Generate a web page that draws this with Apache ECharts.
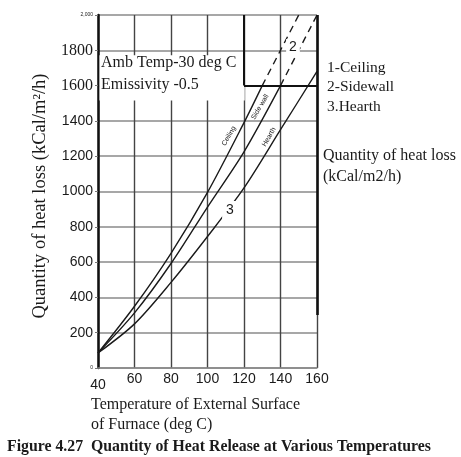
<!DOCTYPE html>
<html>
<head>
    <meta charset="utf-8">
    <title>Heat loss</title>
    <script src="https://cdn.jsdelivr.net/npm/echarts@6/dist/echarts.min.js"></script>
    <style>
        html, body { margin: 0; padding: 0; background: #fff; }
    </style>
</head>
<body>
    <div id="main" style="width: 461px;height:457px;"></div>

<script>
// values
var temps = [40, 60, 80, 100, 120, 140, 160];
var ceilingTemps = [40, 60, 80, 100, 120, 130, 140, 150];
var ceilingLoss = [85, 350, 650, 995, 1390, 1600, 1800, 2000];
var sidewallLoss = [85, 312, 592, 912, 1225, 1600, 2000];
var hearthLoss = [85, 250, 485, 745, 1020, 1350, 1680];
var ceilingDashFrom = 130;   // extrapolated part drawn dashed
var sidewallDashFrom = 140;
var yTickText = ['0', '200', '400', '600', '800', '1000', '1200', '1400', '1600', '1800', '2,000'];

function pairs(xs, ys) {
    return xs.map(function (x, i) { return [x, ys[i]]; });
}
function solidPart(d, from) { return d.filter(function (p) { return p[0] <= from; }); }
function dashPart(d, from) { return d.filter(function (p) { return p[0] >= from; }); }

var ceiling = pairs(ceilingTemps, ceilingLoss);
var sidewall = pairs(temps, sidewallLoss);
var hearth = pairs(temps, hearthLoss);

var serif = 'Liberation Serif';
var sans = 'Liberation Sans';
var ink = '#1a1a1a';

function curve(name, data, dashed) {
    return {
        name: name,
        type: 'line',
        data: data,
        smooth: 0.3,
        showSymbol: false,
        silent: true,
        lineStyle: { color: ink, width: 1.4, type: dashed ? [7, 5] : 'solid' }
    };
}

function txt(text, x, y, font, extra) {
    var el = {
        type: 'text', x: x, y: y, z: 100, silent: true,
        style: { text: text, font: font, fill: ink, textAlign: 'left', textVerticalAlign: 'middle' }
    };
    if (extra) {
        for (var k in extra) {
            if (k === 'style') { for (var s in extra.style) el.style[s] = extra.style[s]; }
            else el[k] = extra[k];
        }
    }
    return el;
}

var myChart = echarts.init(document.getElementById('main'));

var series = [
    curve('Ceiling', solidPart(ceiling, ceilingDashFrom), false),
    curve('Ceiling ext', dashPart(ceiling, ceilingDashFrom), true),
    curve('Sidewall', solidPart(sidewall, sidewallDashFrom), false),
    curve('Sidewall ext', dashPart(sidewall, sidewallDashFrom), true),
    curve('Hearth', hearth, false)
];

// white box behind the note text
series[0].markArea = {
    silent: true,
    itemStyle: { color: '#fff' },
    data: [[{ coord: [40.8, 1515] }, { coord: [120.4, 1772] }]]
};
// darker frame lines of the chart
series[4].markLine = {
    silent: true,
    symbol: 'none',
    label: { show: false },
    lineStyle: { color: '#111', width: 2, type: 'solid' },
    data: [
        [{ coord: [120, 1600] }, { coord: [160, 1600] }],
        [{ coord: [120, 1600] }, { coord: [120, 2000] }],
        [{ coord: [160, 300], lineStyle: { width: 2.6 } }, { coord: [160, 2000] }]
    ]
};

myChart.setOption({
    animation: false,
    backgroundColor: '#fff',
    grid: { left: 98, right: 144, top: 15, bottom: 89 },
    xAxis: {
        type: 'value',
        min: 40,
        max: 160,
        interval: 20,
        axisLine: { show: true, onZero: false, lineStyle: { color: '#888', width: 1.5 } },
        axisTick: { show: false },
        axisLabel: {
            margin: 4,
            color: ink,
            fontFamily: sans,
            fontSize: 14,
            formatter: function (v) { return v === 40 ? '{low|40}' : String(v); },
            rich: { low: { fontFamily: sans, fontSize: 14, color: ink, padding: [6, 0, 0, 0] } }
        },
        splitLine: { show: true, lineStyle: { color: '#444', width: 1.4 } }
    },
    yAxis: {
        type: 'value',
        min: 0,
        max: 2000,
        interval: 200,
        axisLine: { show: true, lineStyle: { color: '#111', width: 2.5 } },
        axisTick: { show: true, length: 3, lineStyle: { color: '#777' } },
        axisLabel: {
            margin: 5,
            color: ink,
            fontFamily: sans,
            fontSize: 14,
            formatter: function (v) {
                var t = yTickText[Math.round(v / 200)];
                if (v === 0 || v === 2000) return '{tiny|' + t + '}';
                if (v >= 1600) return '{ser|' + t + '}';
                return t;
            },
            rich: {
                tiny: { fontSize: 5, fontFamily: sans, color: ink },
                ser: { fontSize: 16, fontFamily: serif, color: ink }
            }
        },
        splitLine: { show: true, lineStyle: { color: '#8a8a8a', width: 1.6 } }
    },
    series: series,
    graphic: [
        txt('Quantity of heat loss (kCal/m\u00b2/h)', 40, 196, '18.5px ' + serif,
            { rotation: Math.PI / 2, style: { textAlign: 'center' } }),
        txt('Amb Temp-30 deg C', 101, 63, '16px ' + serif),
        txt('Emissivity -0.5', 101, 85, '16px ' + serif),
        txt('1-Ceiling', 327, 68, '15.5px ' + serif),
        txt('2-Sidewall', 327, 87, '15.5px ' + serif),
        txt('3.Hearth', 327, 107, '15.5px ' + serif),
        txt('Quantity of heat loss', 323, 156, '16px ' + serif),
        txt('(kCal/m2/h)', 323, 177, '16px ' + serif),
        txt('Temperature of External Surface', 91, 405, '16px ' + serif),
        txt('of Furnace (deg C)', 91, 425, '16px ' + serif),
        txt('Figure 4.27  Quantity of Heat Release at Various Temperatures', 7, 447, 'bold 15.8px ' + serif),
        txt('2', 293, 47, '14px ' + sans,
            { style: { textAlign: 'center', backgroundColor: '#fff', padding: [1, 3] } }),
        txt('3', 230, 210, '14px ' + sans,
            { style: { textAlign: 'center', backgroundColor: '#fff', padding: [2, 4] } }),
        txt('Ceiling', 229, 136, '7px ' + sans,
            { rotation: 1.05, style: { textAlign: 'center' } }),
        txt('Side wall', 260, 107, '7px ' + sans,
            { rotation: 1.05, style: { textAlign: 'center' } }),
        txt('Hearth', 269, 137, '7px ' + sans,
            { rotation: 1.05, style: { textAlign: 'center' } })
    ]
});
</script>

</body>
</html>
